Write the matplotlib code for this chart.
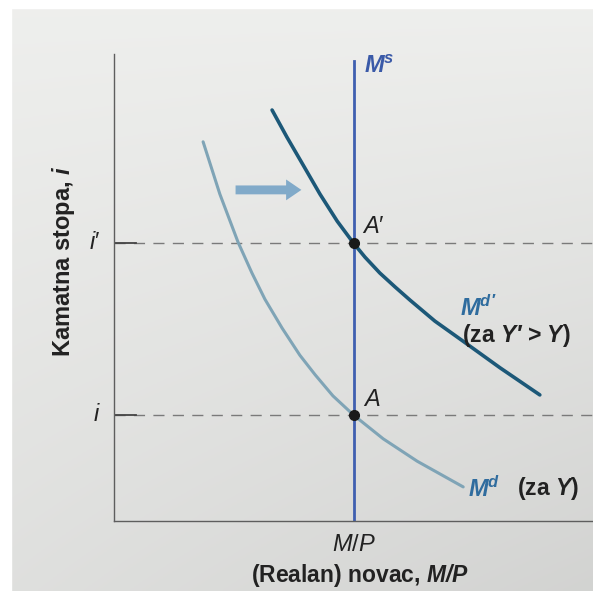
import numpy as np
import matplotlib.pyplot as plt

# money market: supply line and two demand curves
ms_x = 5.0
ms_top = 9.85
i_low = 2.27      # i
i_high = 5.95     # i'

md_x = [1.86, 2.21, 2.59, 2.88, 3.15, 3.51, 3.88, 4.20, 4.57, 5.00, 5.62, 6.33, 7.29]
md_y = [8.12, 7.00, 5.97, 5.31, 4.75, 4.13, 3.55, 3.13, 2.68, 2.27, 1.76, 1.28, 0.73]

md2_x = [3.30, 3.61, 3.95, 4.30, 4.66, 5.00, 5.24, 5.55, 5.87, 6.18, 6.70, 7.22, 8.06, 8.89]
md2_y = [8.80, 8.22, 7.62, 7.00, 6.42, 5.95, 5.65, 5.31, 5.01, 4.73, 4.28, 3.90, 3.28, 2.70]

eq_x = [ms_x, ms_x]
eq_y = [i_low, i_high]

shift_arrow = [(2.48, 7.09), (3.97, 7.09)]

plt.rcParams['font.family'] = ['Liberation Sans', 'DejaVu Sans']
plt.rcParams['mathtext.fontset'] = 'custom'
plt.rcParams['mathtext.rm'] = 'Liberation Sans'
plt.rcParams['mathtext.it'] = 'Liberation Sans:italic'
plt.rcParams['mathtext.bf'] = 'Liberation Sans:italic:bold'

fig = plt.figure(figsize=(5.93, 5.91), dpi=100)

# photographed page background
bg = fig.add_axes([0, 0, 1, 1])
gx = np.linspace(0, 1, 200)
gy = np.linspace(0, 1, 200)
GX, GY = np.meshgrid(gx, gy)
shade = 0.935 - 0.06 * GY - 0.05 * GX * GY
img = np.dstack([shade, shade * 1.003, shade * 0.995])
bg.imshow(np.clip(img, 0, 1), extent=[0, 593, 591, 0], aspect='auto')
bg.fill_between([0, 11], 0, 591, color='white')
bg.fill_between([0, 593], 0, 8, color='white')
bg.set_xlim(0, 593)
bg.set_ylim(591, 0)
bg.axis('off')

ax = fig.add_axes([114 / 593, 70 / 591, 479 / 593, 467 / 591])
ax.patch.set_alpha(0)
ax.set_xlim(0, 10)
ax.set_ylim(0, 10)
for s in ['top', 'right']:
    ax.spines[s].set_visible(False)
for s in ['left', 'bottom']:
    ax.spines[s].set_color('#5e5e5e')
    ax.spines[s].set_linewidth(1.0)
ax.set_xticks([])
ax.set_yticks([])

# dashed interest-rate guides with short solid ticks at the axis
for yv in [i_low, i_high]:
    ax.plot([0, 10], [yv, yv], color='#7a7a7a', lw=1.0, ls=(0, (8, 6)))
    ax.plot([0, 0.45], [yv, yv], color='#444444', lw=1.3)

ax.plot(md_x, md_y, color='#7fa4b6', lw=2.2, solid_capstyle='round', solid_joinstyle='round')
ax.plot(md2_x, md2_y, color='#1c5878', lw=2.6, solid_capstyle='round', solid_joinstyle='round')
ax.plot([ms_x, ms_x], [0, ms_top], color='#3f5fb0', lw=2.0)
ax.plot(eq_x, eq_y, 'o', color='#1a1a1a', ms=7, zorder=5)

ax.annotate('', xy=shift_arrow[1], xytext=shift_arrow[0],
            arrowprops=dict(arrowstyle='simple,head_width=0.75,head_length=0.55,tail_width=0.32',
                            mutation_scale=20, color='#6f9fc4', alpha=0.85, lw=0))

blue = '#2f6c9e'
dark = '#222222'
ax.text(5.22, 9.72, r'$\mathbf{M^s}$', color='#3a5aa8', fontsize=17, va='center')
ax.text(5.18, 6.05, r'$\mathit{A\prime}$', fontsize=17, color=dark, va='bottom')
ax.text(5.20, 2.36, r'$\mathit{A}$', fontsize=17, color=dark, va='bottom')
ax.text(7.22, 4.55, r"$\mathbf{M^{d\prime}}$", color=blue, fontsize=17, va='center')
ax.text(7.27, 3.98, r"(za $\mathbf{Y\prime}$ > $\mathbf{Y}$)", fontsize=16.5, fontweight='bold',
        color=dark, va='center')
ax.text(7.39, 0.69, r'$\mathbf{M^d}$', color=blue, fontsize=17, va='center')
ax.text(8.42, 0.69, r'(za $\mathbf{Y}$)', fontsize=16.5, fontweight='bold', color=dark, va='center')

ax.text(-0.28, i_high, r'$\mathit{i\prime}$', fontsize=17, color=dark, ha='right', va='center', clip_on=False)
ax.text(-0.28, i_low, r'$\mathit{i}$', fontsize=17, color=dark, ha='right', va='center', clip_on=False)
ax.text(ms_x, -0.51, r'$\mathit{M/P}$', fontsize=17, color=dark, ha='center', va='center', clip_on=False)
ax.text(5.13, -1.16, r'(Realan) novac, $\mathbf{M/P}$', fontsize=16.5, fontweight='bold',
        color=dark, ha='center', va='center', clip_on=False)
ax.text(-1.06, 5.57, r'Kamatna stopa, $\mathbf{i}$', fontsize=17, fontweight='bold', color=dark,
        rotation=90, ha='center', va='center', clip_on=False)

fig.savefig('out.png', dpi=100)
